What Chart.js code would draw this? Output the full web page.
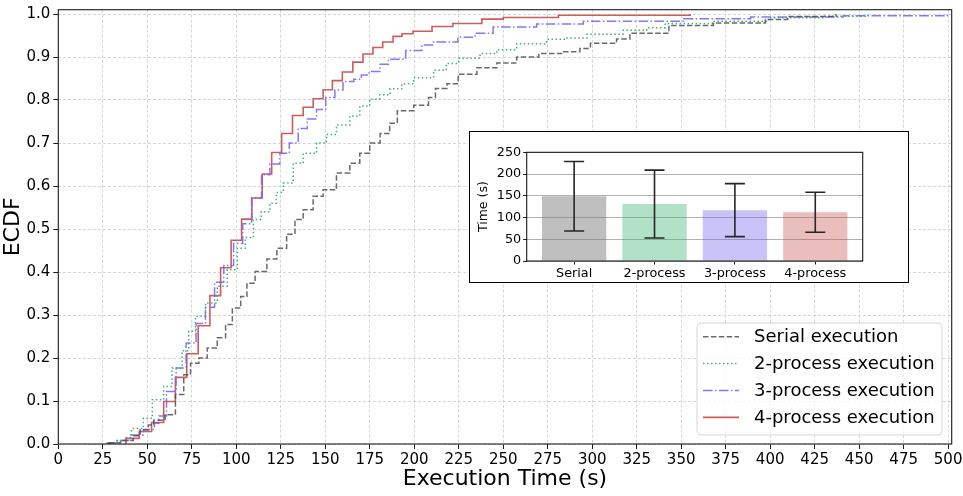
<!DOCTYPE html>
<html>
<head>
<meta charset="utf-8">
<title>ECDF of execution time</title>
<script src="https://cdn.jsdelivr.net/npm/chart.js@4.4.1/dist/chart.umd.min.js"></script>
<style>
  html, body { margin: 0; padding: 0; background: #fff; }
  #wrap { position: relative; width: 963px; height: 496px; }
  canvas { display: block; }
  #inset {
    position: absolute; left: 469px; top: 131px; width: 440px; height: 152px;
    border: 1px solid #000; box-sizing: border-box; background: #fff;
  }
</style>
</head>
<body>
<div id="wrap">
  <canvas id="ecdfChart" width="963" height="496"></canvas>
  <div id="inset"><canvas id="meanChart" width="438" height="150"></canvas></div>
</div>
<script>
// ECDF step points (execution time in s, cumulative fraction)
var serialX = [29, 29, 35, 42.1, 46, 50.6, 53.6, 60, 65.8, 70.5, 74.3, 79, 83.7, 89.3, 94, 97.8, 102.5, 106, 110.6, 117.2,
  122.8, 128.3, 133, 137.6, 143.2, 148.8, 156.3, 163.8, 169.4, 175, 180.8, 186.2, 190.5, 199.7, 208, 211.9, 218.4, 224.7,
  235.2, 246.4, 257.6, 270, 284, 293.1, 299, 313.7, 321.2, 343.1, 368.1, 397.3, 409.8, 437];
var serialY = [0, 0.003, 0.008, 0.019, 0.033, 0.044, 0.055, 0.068, 0.115, 0.161, 0.188, 0.2, 0.223, 0.247, 0.278, 0.316, 0.343, 0.374, 0.401, 0.43,
  0.455, 0.488, 0.522, 0.545, 0.576, 0.591, 0.63, 0.653, 0.676, 0.7, 0.722, 0.746, 0.775, 0.788, 0.806, 0.827, 0.838, 0.86,
  0.875, 0.886, 0.9, 0.908, 0.912, 0.92, 0.932, 0.942, 0.955, 0.973, 0.979, 0.987, 0.994, 1.0];

var twoProcX = [28, 28, 33, 37.5, 41.2, 47.8, 52.8, 59.2, 63.9, 69.6, 73.3, 77.1, 82.7, 89.3, 94.9, 100.6, 105, 109.6, 114, 118.9,
  122.5, 126.4, 132, 137.6, 145.1, 150.7, 156.3, 163.8, 169.4, 175, 180.6, 186.4, 193, 199.6, 210.9, 218, 225, 237, 246.4,
  257.6, 274.4, 285, 297, 317.4, 330.6, 341, 368, 399, 430.6, 455];
var twoProcY = [0, 0.003, 0.008, 0.015, 0.036, 0.06, 0.103, 0.134, 0.177, 0.217, 0.262, 0.297, 0.328, 0.367, 0.405, 0.455, 0.48, 0.522, 0.54, 0.56,
  0.585, 0.607, 0.653, 0.676, 0.7, 0.72, 0.742, 0.763, 0.786, 0.802, 0.812, 0.826, 0.838, 0.852, 0.869, 0.885, 0.897, 0.908, 0.917,
  0.931, 0.941, 0.944, 0.953, 0.962, 0.968, 0.978, 0.983, 0.991, 0.995, 1.0];

var threeProcX = [27.5, 27.5, 33, 40.5, 47.8, 54, 56.5, 60.8, 66.2, 71.8, 77.4, 82.7, 87.8, 93, 98.5, 103.6, 108.6, 114.2, 118.9,
  124.5, 129.8, 134.8, 139.9, 145.1, 150.3, 155.4, 160, 166, 170.3, 174.6, 180.8, 185.5, 195.2, 204.3, 210.8, 224.5, 234.2,
  244.3, 268.8, 295, 351.4, 389, 441, 499.5];
var threeProcY = [0, 0.003, 0.008, 0.021, 0.034, 0.048, 0.065, 0.122, 0.177, 0.235, 0.28, 0.318, 0.376, 0.415, 0.466, 0.512, 0.572, 0.626, 0.651,
  0.676, 0.7, 0.734, 0.756, 0.778, 0.806, 0.823, 0.843, 0.848, 0.858, 0.866, 0.883, 0.895, 0.915, 0.928, 0.935, 0.946, 0.955,
  0.97, 0.977, 0.983, 0.989, 0.993, 0.996, 1.0];

var fourProcX = [38, 38, 45.5, 52.4, 59.2, 65.8, 72.2, 78.6, 85.2, 91.2, 97.1, 103, 108.8, 114.6, 119.9, 125.5, 131.6, 137.6,
  143.2, 148.8, 154, 159.6, 165.5, 171.2, 176.8, 182.3, 188.1, 193.1, 199.3, 210, 221.7, 238, 250, 281, 355];
var fourProcY = [0, 0.013, 0.029, 0.05, 0.099, 0.155, 0.21, 0.275, 0.345, 0.41, 0.474, 0.523, 0.572, 0.628, 0.678, 0.722, 0.764, 0.783,
  0.803, 0.824, 0.845, 0.865, 0.888, 0.907, 0.922, 0.935, 0.948, 0.954, 0.96, 0.971, 0.978, 0.988, 0.992, 0.997, 1.0];

var seriesNames = ['Serial execution', '2-process execution', '3-process execution', '4-process execution'];

// inset: mean execution time and standard deviation per variant
var variantLabels = ['Serial', '2-process', '3-process', '4-process'];
var meanTimes = [149, 131, 117, 112];
var stdTimes = [80, 78, 61, 46];

function toPoints(xs, ys) {
    return xs.map(function (x, i) { return { x: x, y: ys[i] }; });
}

Chart.defaults.font.family = "'DejaVu Sans', sans-serif";
Chart.defaults.color = '#000';

// black box round the plot area, like matplotlib spines
var frame = {
    id: 'frame',
    afterDatasetsDraw: function (chart) {
        var a = chart.chartArea, ctx = chart.ctx;
        ctx.save();
        ctx.strokeStyle = '#1a1a1a';
        ctx.lineWidth = 1.1;
        ctx.setLineDash([]);
        ctx.strokeRect(a.left, a.top, a.right - a.left, a.bottom - a.top);
        ctx.restore();
    }
};

// legend box in the lower right corner of the plot
var cornerLegend = {
    id: 'cornerLegend',
    afterDraw: function (chart) {
        var a = chart.chartArea, ctx = chart.ctx;
        var w = 245, h = 112, r = 4;
        var x0 = a.right - 9.7 - w, y0 = a.bottom - 9 - h;
        ctx.save();
        ctx.beginPath();
        ctx.moveTo(x0 + r, y0);
        ctx.arcTo(x0 + w, y0, x0 + w, y0 + h, r);
        ctx.arcTo(x0 + w, y0 + h, x0, y0 + h, r);
        ctx.arcTo(x0, y0 + h, x0, y0, r);
        ctx.arcTo(x0, y0, x0 + w, y0, r);
        ctx.closePath();
        ctx.fillStyle = 'rgba(255,255,255,0.8)';
        ctx.fill();
        ctx.strokeStyle = '#d6d6d6';
        ctx.lineWidth = 1;
        ctx.stroke();
        ctx.font = "18px 'DejaVu Sans', sans-serif";
        ctx.textBaseline = 'middle';
        ctx.textAlign = 'left';
        chart.data.datasets.forEach(function (ds, i) {
            var y = y0 + 13.7 + i * 26.9;
            ctx.strokeStyle = ds.borderColor;
            ctx.lineWidth = ds.borderWidth;
            ctx.setLineDash(ds.borderDash || []);
            ctx.beginPath();
            ctx.moveTo(x0 + 6, y);
            ctx.lineTo(x0 + 42, y);
            ctx.stroke();
            ctx.setLineDash([]);
            ctx.fillStyle = '#000';
            ctx.fillText(ds.label, x0 + 57, y + 1);
        });
        ctx.restore();
    }
};

var ecdfChart = new Chart(document.getElementById('ecdfChart'), {
    type: 'line',
    data: {
        datasets: [{
            label: seriesNames[0],
            data: toPoints(serialX, serialY),
            borderColor: 'rgba(80, 80, 80, 0.85)',
            borderDash: [5.5, 2.4],
            borderWidth: 1.5,
        }, {
            label: seriesNames[1],
            data: toPoints(twoProcX, twoProcY),
            borderColor: '#3cb371',
            borderDash: [1.5, 2.5],
            borderWidth: 1.5,
        }, {
            label: seriesNames[2],
            data: toPoints(threeProcX, threeProcY),
            borderColor: 'rgba(123, 104, 238, 0.9)',
            borderDash: [9.6, 2.4, 1.5, 2.4],
            borderWidth: 1.5,
        }, {
            label: seriesNames[3],
            data: toPoints(fourProcX, fourProcY),
            borderColor: '#cd5c5c',
            borderWidth: 1.6,
        }]
    },
    options: {
        responsive: false,
        animation: false,
        events: [],
        elements: {
            line: { stepped: 'before', fill: false },
            point: { radius: 0 }
        },
        layout: { padding: { left: 0, top: 9.7, right: 11.3, bottom: 0 } },
        plugins: {
            legend: { display: false },
            tooltip: { enabled: false }
        },
        scales: {
            x: {
                type: 'linear',
                min: 0,
                max: 502,
                ticks: {
                    stepSize: 25,
                    includeBounds: false,
                    autoSkip: false,
                    maxRotation: 0,
                    padding: 2,
                    font: { size: 15 }
                },
                grid: {
                    color: '#cccccc',
                    lineWidth: 0.8,
                    tickColor: '#1a1a1a',
                    tickLength: 5,
                    tickWidth: 1,
                    tickBorderDash: []
                },
                border: { display: false, dash: [3, 2] },
                title: {
                    display: true,
                    text: 'Execution Time (s)',
                    font: { size: 22 },
                    padding: { top: 0, bottom: 4 }
                },
                afterFit: function (scale) {
                    scale.height = 52;
                    scale.paddingLeft = 0;
                    scale.paddingRight = 0;
                }
            },
            y: {
                min: 0,
                max: 1.01,
                ticks: {
                    stepSize: 0.1,
                    includeBounds: false,
                    padding: 3,
                    font: { size: 15 },
                    callback: function (v) { return v.toFixed(1); }
                },
                grid: {
                    color: '#cccccc',
                    lineWidth: 0.8,
                    tickColor: '#1a1a1a',
                    tickLength: 5,
                    tickWidth: 1,
                    tickBorderDash: []
                },
                border: { display: false, dash: [3, 2] },
                title: {
                    display: true,
                    text: 'ECDF',
                    font: { size: 22 },
                    padding: { top: 0, bottom: 0 }
                },
                afterFit: function (scale) {
                    scale.width = 58.3;
                    scale.paddingTop = 0;
                    scale.paddingBottom = 0;
                }
            }
        }
    },
    plugins: [frame, cornerLegend]
});

// error bars on the inset bars, drawn through the inset's own y scale
var errorBars = {
    id: 'errorBars',
    afterDatasetsDraw: function (chart) {
        var meta = chart.getDatasetMeta(0), yScale = chart.scales.y, ctx = chart.ctx;
        ctx.save();
        ctx.strokeStyle = '#262626';
        ctx.lineWidth = 1.6;
        meta.data.forEach(function (bar, i) {
            var top = yScale.getPixelForValue(meanTimes[i] + stdTimes[i]);
            var bot = yScale.getPixelForValue(meanTimes[i] - stdTimes[i]);
            ctx.beginPath();
            ctx.moveTo(bar.x, top);
            ctx.lineTo(bar.x, bot);
            ctx.moveTo(bar.x - 10, top);
            ctx.lineTo(bar.x + 10, top);
            ctx.moveTo(bar.x - 10, bot);
            ctx.lineTo(bar.x + 10, bot);
            ctx.stroke();
        });
        ctx.restore();
    }
};

var meanChart = new Chart(document.getElementById('meanChart'), {
    type: 'bar',
    data: {
        datasets: [{
            label: 'Mean time',
            data: meanTimes.map(function (m, i) { return { x: i, y: m }; }),
            backgroundColor: [
                'rgba(128, 128, 128, 0.5)',
                'rgba(60, 179, 113, 0.4)',
                'rgba(123, 104, 238, 0.4)',
                'rgba(205, 92, 92, 0.4)',
            ],
            borderWidth: 0,
            barPercentage: 0.8,
            categoryPercentage: 1.0,
        }]
    },
    options: {
        responsive: false,
        animation: false,
        events: [],
        layout: { padding: { left: 0, top: 20.3, right: 45.3, bottom: 0 } },
        plugins: {
            legend: { display: false },
            tooltip: { enabled: false }
        },
        scales: {
            x: {
                type: 'linear',
                offset: false,
                min: -0.59,
                max: 3.59,
                ticks: {
                    stepSize: 1,
                    includeBounds: false,
                    autoSkip: false,
                    maxRotation: 0,
                    padding: 1,
                    font: { size: 12.8 },
                    callback: function (v) { return variantLabels[v] !== undefined ? variantLabels[v] : ''; }
                },
                grid: {
                    offset: false,
                    drawOnChartArea: false,
                    tickColor: '#1a1a1a',
                    tickLength: 3.5,
                    tickWidth: 1
                },
                border: { display: false },
                afterFit: function (scale) {
                    scale.height = 21;
                    scale.paddingLeft = 0;
                    scale.paddingRight = 0;
                }
            },
            y: {
                min: 0,
                max: 250,
                ticks: {
                    stepSize: 50,
                    padding: 2,
                    font: { size: 12.8 }
                },
                grid: {
                    color: '#b0b0b0',
                    lineWidth: 1,
                    tickColor: '#1a1a1a',
                    tickLength: 3.5,
                    tickWidth: 1
                },
                border: { display: false },
                title: {
                    display: true,
                    text: 'Time (s)',
                    font: { size: 12.5 },
                    padding: { top: 6, bottom: 0 }
                },
                afterFit: function (scale) {
                    scale.width = 56.7;
                    scale.paddingTop = 0;
                    scale.paddingBottom = 0;
                }
            }
        }
    },
    plugins: [frame, errorBars]
});
</script>
</body>
</html>
